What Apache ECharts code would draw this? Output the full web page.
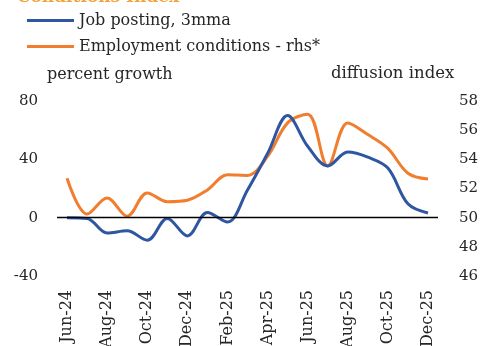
<!DOCTYPE html>
<html>
<head>
<meta charset="utf-8">
<script src="https://cdn.jsdelivr.net/npm/echarts@6/dist/echarts.min.js"></script>
<style>
  html, body { margin: 0; padding: 0; background: #fff; }
  #chart { width: 480px; height: 346px; }
</style>
</head>
<body>
<div id="chart"></div>
<script>
// Monthly categories, Jun-24 .. Dec-25
const months = ['Jun-24','Jul-24','Aug-24','Sep-24','Oct-24','Nov-24','Dec-24','Jan-25','Feb-25',
  'Mar-25','Apr-25','May-25','Jun-25','Jul-25','Aug-25','Sep-25','Oct-25','Nov-25','Dec-25'];

// Job posting growth, 3-month moving average (percent, left axis)
const jobPosting = [0, -0.5, -10.5, -9, -15.5, -0.5, -12.5, 3.5, -3, 19, 44, 70, 49, 35.5, 45, 41.5, 34, 9.5, 3.2];

// Employment conditions diffusion index (right axis)
const employment = [52.7, 50.25, 51.35, 50.1, 51.7, 51.1, 51.2, 51.9, 52.95, 52.9, 54.2, 56.5, 57.1, 53.55, 56.5, 55.7, 54.75, 53.05, 52.65];

const leftTicks = { min: -40, max: 80, interval: 40 };
const rightTicks = { min: 46, max: 58, interval: 2 };

const FONT = 'DejaVu Serif';
const TEXT = '#262626';
const BLUE = '#2F56A0';
const ORANGE = '#F07E2E';

const chart = echarts.init(document.getElementById('chart'));
chart.setOption({
  animation: false,
  textStyle: { fontFamily: FONT, color: TEXT },
  title: {
    text: 'Conditions Index',
    left: 12, top: -16,
    textStyle: { fontFamily: FONT, fontSize: 17, fontWeight: 'bold', color: '#F4A33A' }
  },
  legend: {
    orient: 'vertical',
    left: 22, top: 5,
    itemWidth: 47, itemHeight: 3, itemGap: 5,
    icon: 'rect',
    textStyle: { fontFamily: FONT, fontSize: 16, color: TEXT, lineHeight: 21 },
    data: ['Job posting, 3mma', 'Employment conditions - rhs*']
  },
  graphic: [
    { type: 'text', left: 47, top: 67, style: { text: 'percent growth', font: '16px "DejaVu Serif"', fill: TEXT } },
    { type: 'text', left: 331, top: 65, style: { text: 'diffusion index', font: '16.5px "DejaVu Serif"', fill: TEXT } }
  ],
  grid: { left: 57, right: 42, top: 101, bottom: 70, outerBoundsMode: 'none' },
  xAxis: {
    type: 'category',
    data: months,
    boundaryGap: true,
    axisLine: { show: false },
    axisTick: { show: false },
    axisLabel: {
      rotate: 90, margin: 14, interval: 1,
      fontFamily: FONT, fontSize: 16, color: TEXT
    }
  },
  yAxis: [
    {
      type: 'value',
      min: leftTicks.min, max: leftTicks.max, interval: leftTicks.interval,
      axisLine: { show: false }, axisTick: { show: false },
      splitLine: { show: false },
      axisLabel: { margin: 19, fontFamily: FONT, fontSize: 15, color: TEXT }
    },
    {
      type: 'value',
      min: rightTicks.min, max: rightTicks.max, interval: rightTicks.interval,
      position: 'right',
      axisLine: { show: false }, axisTick: { show: false },
      splitLine: { show: false },
      axisLabel: { margin: 21, fontFamily: FONT, fontSize: 15, color: TEXT }
    }
  ],
  series: [
    {
      name: 'Job posting, 3mma',
      type: 'line',
      yAxisIndex: 0,
      data: jobPosting,
      smooth: 0.35,
      showSymbol: false,
      z: 3,
      lineStyle: { color: BLUE, width: 3 },
      itemStyle: { color: BLUE },
      markLine: {
        silent: true,
        symbol: 'none',
        label: { show: false },
        lineStyle: { color: '#000', width: 1.3, type: 'solid' },
        data: [{ yAxis: 0 }]
      }
    },
    {
      name: 'Employment conditions - rhs*',
      type: 'line',
      yAxisIndex: 1,
      data: employment,
      smooth: 0.35,
      showSymbol: false,
      z: 2,
      lineStyle: { color: ORANGE, width: 3 },
      itemStyle: { color: ORANGE }
    }
  ]
});
</script>
</body>
</html>
